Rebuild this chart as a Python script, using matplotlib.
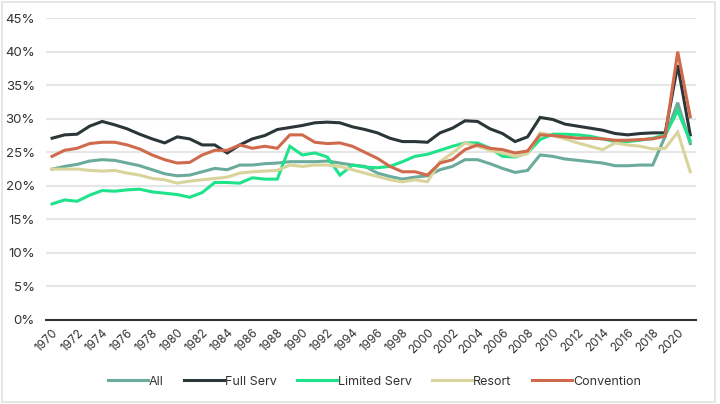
import matplotlib.pyplot as plt
from matplotlib.patches import Rectangle

plt.rcParams['font.family'] = ['Inter', 'DejaVu Sans']

years = list(range(1970, 2022))

all_hotels = [22.5, 22.9, 23.2, 23.7, 23.9, 23.8, 23.4, 23.0, 22.4, 21.8,
              21.5, 21.6, 22.1, 22.6, 22.4, 23.1, 23.1, 23.3, 23.4, 23.6,
              23.6, 23.6, 23.7, 23.4, 23.1, 22.9, 21.9, 21.4, 21.0, 21.3,
              21.5, 22.4, 22.9, 23.9, 23.9, 23.3, 22.6, 22.0, 22.3, 24.6,
              24.4, 24.0, 23.8, 23.6, 23.4, 23.0, 23.0, 23.1, 23.1, 27.4,
              32.4, 26.3]
full_serv = [27.1, 27.6, 27.7, 28.9, 29.6, 29.1, 28.5, 27.7, 27.0, 26.4,
             27.3, 27.0, 26.1, 26.1, 24.9, 26.1, 27.0, 27.5, 28.4, 28.7,
             29.0, 29.4, 29.5, 29.4, 28.8, 28.4, 27.9, 27.1, 26.6, 26.6,
             26.5, 27.9, 28.6, 29.7, 29.6, 28.5, 27.8, 26.6, 27.3, 30.2,
             29.9, 29.2, 28.9, 28.6, 28.3, 27.8, 27.6, 27.8, 27.9, 27.9,
             38.0, 27.6]
limited_serv = [17.3, 17.9, 17.7, 18.6, 19.3, 19.2, 19.4, 19.5, 19.1, 18.9,
                18.7, 18.3, 19.0, 20.5, 20.5, 20.4, 21.2, 21.0, 21.0, 25.9,
                24.6, 24.9, 24.3, 21.6, 23.1, 22.8, 22.7, 22.9, 23.6, 24.4,
                24.7, 25.3, 25.9, 26.4, 26.4, 25.6, 24.4, 24.3, 24.9, 26.9,
                27.7, 27.7, 27.6, 27.4, 27.0, 26.6, 26.6, 26.8, 27.1, 27.6,
                31.2, 26.7]
resort = [22.5, 22.5, 22.5, 22.3, 22.2, 22.3, 21.9, 21.6, 21.1, 20.9,
          20.4, 20.7, 20.9, 21.1, 21.3, 21.9, 22.1, 22.2, 22.3, 23.1,
          22.9, 23.1, 23.1, 22.9, 22.4, 21.9, 21.4, 20.9, 20.6, 20.9,
          20.6, 23.6, 24.9, 26.4, 25.9, 25.3, 24.9, 24.4, 24.8, 27.9,
          27.5, 27.0, 26.4, 25.9, 25.4, 26.4, 26.1, 25.9, 25.5, 25.6,
          28.0, 22.1]
convention = [24.4, 25.3, 25.6, 26.3, 26.5, 26.5, 26.1, 25.5, 24.6, 23.9,
              23.4, 23.5, 24.6, 25.3, 25.3, 26.1, 25.6, 25.9, 25.6, 27.6,
              27.6, 26.5, 26.3, 26.4, 25.9, 25.0, 24.1, 22.9, 22.1, 22.1,
              21.6, 23.4, 23.9, 25.4, 26.1, 25.6, 25.4, 24.9, 25.2, 27.6,
              27.5, 27.3, 27.1, 27.1, 27.0, 26.8, 26.8, 26.9, 27.0, 27.4,
              40.0, 30.3]

series = [
    ('All', all_hotels, '#6aab9c'),
    ('Full Serv', full_serv, '#2b3638'),
    ('Limited Serv', limited_serv, '#1ee38b'),
    ('Resort', resort, '#d9d49b'),
    ('Convention', convention, '#cf6a4c'),
]

fig = plt.figure(figsize=(7.2, 4.04), dpi=100)
ax = fig.add_axes([0.064, 0.208, 0.903, 0.747])

for name, vals, col in series:
    ax.plot(years, vals, color=col, lw=2.2, label=name, solid_joinstyle='miter')

ax.set_xlim(1969.52, 2021.48)
ax.set_ylim(0, 45)
ax.set_yticks(range(0, 46, 5))
ax.set_yticklabels([f'{v}%' for v in range(0, 46, 5)])
ax.set_xticks(range(1970, 2021, 2))
ax.set_xticklabels([str(y) for y in range(1970, 2021, 2)], rotation=45,
                   ha='right', va='top', rotation_mode='anchor')
ax.grid(axis='y', color='#e6e6e6', lw=1.5)
ax.set_axisbelow(True)
for s in ['left', 'right', 'top']:
    ax.spines[s].set_visible(False)
ax.spines['bottom'].set_color('#333333')
ax.spines['bottom'].set_linewidth(1.5)
ax.spines['bottom'].set_zorder(5)
ax.tick_params(length=0, colors='#333333')
ax.tick_params(axis='y', labelsize=9.5, pad=8)
ax.tick_params(axis='x', labelsize=8.5, pad=5)

leg = fig.legend(loc='center', bbox_to_anchor=(0.52, 0.055), ncol=5,
                 frameon=False, fontsize=9, handlelength=3.2,
                 handletextpad=0.1, columnspacing=1.6)
for t in leg.get_texts():
    t.set_color('#333333')

fig.patches.append(Rectangle((0.003, 0.005), 0.99, 0.99, transform=fig.transFigure,
                             fill=False, edgecolor='#e2e2e2', lw=1.2))

fig.savefig('out.png', dpi=100)
